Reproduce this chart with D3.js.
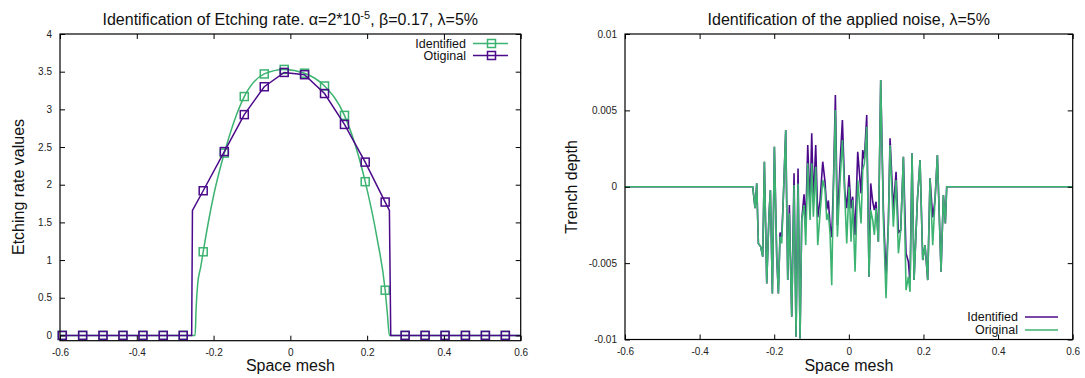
<!DOCTYPE html>
<html><head><meta charset="utf-8">
<script src="https://cdn.jsdelivr.net/npm/d3@7"></script>
<style>body{margin:0;background:#fff} svg{display:block;font-family:"Liberation Sans",Arial,sans-serif}</style>
</head><body><svg id="c" width="1085" height="378"></svg>
<script>
// ---------- data: left panel (etching rate) ----------
const markerX = [-0.594,-0.541,-0.488,-0.436,-0.384,-0.331,-0.279,-0.227,-0.172,-0.120,-0.068,-0.016,0.037,0.089,0.141,0.195,0.247,0.299,0.351,0.403,0.456,0.508,0.560];
const identMarkers = [0,0,0,0,0,0,0,1.11,2.42,3.17,3.47,3.53,3.48,3.31,2.92,2.04,0.60,0,0,0,0,0,0];
const origMarkers  = [0,0,0,0,0,0,0,1.92,2.44,2.93,3.30,3.49,3.46,3.21,2.80,2.30,1.77,0,0,0,0,0,0];
const identLineX = [-0.6,-0.248,-0.2456,-0.2412,-0.2334,-0.227,-0.2006,-0.172,-0.120,-0.068,-0.016,0.037,0.089,0.141,0.195,0.2251,0.247,0.2527,0.258,0.6];
const identLineY = [0,0,0.34,0.69,0.91,1.11,1.84,2.42,3.17,3.47,3.53,3.48,3.31,2.92,2.04,1.31,0.60,0.29,0,0];
const origLineX = [-0.6,-0.257,-0.255,-0.227,-0.172,-0.120,-0.068,-0.016,0.037,0.089,0.141,0.195,0.247,0.258,0.2615,0.6];
const origLineY = [0,0,1.66,1.92,2.44,2.93,3.30,3.49,3.46,3.21,2.80,2.30,1.77,1.66,0,0];
const leftXTicks = [-0.6,-0.4,-0.2,0,0.2,0.4,0.6];
const leftYTicks = [0,0.5,1,1.5,2,2.5,3,3.5,4];

// ---------- data: right panel (noise) ----------
const noiseX = [-0.6,-0.2577,-0.2514,-0.2469,-0.2425,-0.2362,-0.2308,-0.2264,-0.2201,-0.2139,-0.2103,-0.2050,-0.1996,-0.1933,-0.1889,-0.1844,-0.1799,-0.1755,-0.1692,-0.1638,-0.1594,-0.1531,-0.1469,-0.1415,-0.1362,-0.1308,-0.1263,-0.1201,-0.1156,-0.1102,-0.1040,-0.0995,-0.0951,-0.0888,-0.0834,-0.0772,-0.0700,-0.0638,-0.0593,-0.0549,-0.0504,-0.0459,-0.0415,-0.0361,-0.0307,-0.0236,-0.0173,-0.0111,-0.0057,0.0005,0.0059,0.0104,0.0166,0.0238,0.0327,0.0372,0.0416,0.0479,0.0541,0.0586,0.0640,0.0684,0.0729,0.0791,0.0854,0.0926,0.0997,0.1059,0.1104,0.1193,0.1265,0.1328,0.1390,0.1462,0.1533,0.1596,0.1640,0.1694,0.1748,0.1837,0.1908,0.1980,0.2042,0.2114,0.2176,0.2248,0.2310,0.2373,0.2471,0.2534,0.2587,0.2623,0.6];
const noiseOriginal = [0,0,-1.41e-3,0.22e-3,-3.71e-3,-3.93e-3,-4.58e-3,1.64e-3,-6.33e-3,-1.74e-3,-0.22e-3,-6.98e-3,2.62e-3,-4.6e-3,-6.98e-3,-3.27e-3,-3.71e-3,-0.65e-3,3.71e-3,-6.11e-3,-1.74e-3,-8.51e-3,0.11e-3,-9.82e-3,0.22e-3,-9.93e-3,-2.18e-3,-1.2e-3,-3.82e-3,1.53e-3,-2.18e-3,1.53e-3,-1.96e-3,1.31e-3,-3.82e-3,-1.74e-3,0.44e-3,-0.22e-3,-2.18e-3,-1.74e-3,-3.05e-3,-6.44e-3,-0.22e-3,5.02e-3,-3.27e-3,0.4e-3,3.06e-3,-0.43e-3,-3.71e-3,0,-3.60e-3,-0.87e-3,-5.57e-3,0.44e-3,-2.40e-3,1.09e-3,1.53e-3,3.93e-3,-5.89e-3,-1.53e-3,-2.18e-3,-3.16e-3,-1.41e-3,-3.60e-3,6.99e-3,-2.18e-3,-7.3e-3,-2.40e-3,2.73e-3,-2.62e-3,0.44e-3,-4.36e-3,-2.84e-3,1.96e-3,-6.77e-3,-5.89e-3,-6.88e-3,2.19e-3,-6.11e-3,-0.87e-3,1.75e-3,-4.80e-3,-3.82e-3,-6.11e-3,0.55e-3,-3.82e-3,-0.87e-3,2.08e-3,-5.57e-3,-0.54e-3,-2.40e-3,0,0];
const noiseIdentified = [0,0,-1.41e-3,0.22e-3,-3.71e-3,-3.93e-3,-4.58e-3,1.64e-3,-6.33e-3,-1.74e-3,-0.22e-3,-6.98e-3,2.62e-3,-4.6e-3,-6.98e-3,-3.0e-3,-3.27e-3,-0.65e-3,3.71e-3,-6.11e-3,-1.2e-3,-8.51e-3,0.88e-3,-9.82e-3,1.20e-3,-9.93e-3,-2.18e-3,-0.5e-3,-2.5e-3,2.73e-3,-1.3e-3,3.50e-3,-1.0e-3,2.73e-3,-2.0e-3,-0.9e-3,1.64e-3,0.3e-3,-1.5e-3,-0.9e-3,-2.5e-3,-3.3e-3,0,6.01e-3,-2.5e-3,1.5e-3,4.37e-3,-0.2e-3,-1.41e-3,0.77e-3,-1.41e-3,-0.65e-3,-3.16e-3,2.29e-3,-0.43e-3,2.40e-3,1.8e-3,4.70e-3,-5.89e-3,0.22e-3,-0.98e-3,-1.53e-3,-0.98e-3,-3.60e-3,6.99e-3,-1.5e-3,-6.0e-3,-2.40e-3,3.17e-3,-1.5e-3,0.98e-3,-3.0e-3,-2.84e-3,1.96e-3,-4.36e-3,-4.91e-3,-6.3e-3,2.19e-3,-6.11e-3,-0.87e-3,1.75e-3,-4.80e-3,-3.82e-3,-6.11e-3,0.55e-3,-2.0e-3,-0.87e-3,2.08e-3,-5.57e-3,-0.54e-3,-2.40e-3,0,0];
const rightXTicks = [-0.6,-0.4,-0.2,0,0.2,0.4,0.6];
const rightYTicks = [-0.01,-0.005,0,0.005,0.01];

// ---------- drawing ----------
const PURPLE = "#4b0a8a", GREEN = "#3cb371";
const FONT = '"Liberation Sans",Arial,sans-serif';
const svg = d3.select("#c");

function frame(g, x, y, xTicks, yTicks, yFmt) {
  const [x0, x1] = x.range(), [y0, y1] = y.range();
  const T = 5;
  g.append("g").attr("transform", `translate(0,${y0})`)
    .call(d3.axisBottom(x).tickValues(xTicks).tickSize(-T).tickPadding(8).tickFormat(d3.format("")));
  g.append("g").attr("transform", `translate(0,${y1})`)
    .call(d3.axisTop(x).tickValues(xTicks).tickSize(-T).tickFormat(""));
  g.append("g").attr("transform", `translate(${x0},0)`)
    .call(d3.axisLeft(y).tickValues(yTicks).tickSize(-T).tickPadding(8).tickFormat(yFmt));
  g.append("g").attr("transform", `translate(${x1},0)`)
    .call(d3.axisRight(y).tickValues(yTicks).tickSize(-T).tickFormat(""));
  g.selectAll(".domain").remove();
  g.selectAll("g").attr("font-family", FONT).attr("font-size", 10);
  g.selectAll(".tick line").attr("stroke", "#000");
  g.selectAll(".tick text").attr("fill", "#222").text(function(){ return this.textContent.replace("\u2212","-"); });
  g.append("rect").attr("x", x0).attr("y", y1).attr("width", x1 - x0).attr("height", y0 - y1)
    .attr("fill", "none").attr("stroke", "#000").attr("stroke-width", 1.2);
}

function labels(g, x, y, xlab, ylab, ylabX) {
  const [x0, x1] = x.range();
  g.append("text").attr("x", (x0 + x1) / 2).attr("y", 371).attr("text-anchor", "middle")
    .attr("font-size", 16).attr("fill", "#111").text(xlab);
  g.append("text").attr("transform", `translate(${ylabX},187) rotate(-90)`).attr("dy", "0.35em")
    .attr("text-anchor", "middle").attr("font-size", 16).attr("fill", "#111").text(ylab);
}

// ----- Left panel -----
{
  const x = d3.scaleLinear().domain([-0.6, 0.6]).range([60, 520.7]);
  const y = d3.scaleLinear().domain([-0.07, 4]).range([340.7, 34]);
  const g = svg.append("g");
  const line = d3.line().x(d => x(d[0])).y(d => y(d[1]));
  const identPts = identLineX.map((v, i) => [v, identLineY[i]]);
  const origPts = origLineX.map((v, i) => [v, origLineY[i]]);
  g.append("path").attr("d", line.curve(d3.curveMonotoneX)(identPts)).attr("fill", "none")
    .attr("stroke", GREEN).attr("stroke-width", 1.5);
  g.selectAll(".mi").data(markerX.map((v, i) => [v, identMarkers[i]])).join("rect")
    .attr("x", d => x(d[0]) - 4).attr("y", d => y(d[1]) - 4).attr("width", 8).attr("height", 8)
    .attr("fill", "none").attr("stroke", GREEN).attr("stroke-width", 1.5);
  g.append("path").attr("d", d3.line().x(d => x(d[0])).y(d => y(d[1]))(origPts)).attr("fill", "none")
    .attr("stroke", PURPLE).attr("stroke-width", 1.5);
  g.selectAll(".mo").data(markerX.map((v, i) => [v, origMarkers[i]])).join("rect")
    .attr("x", d => x(d[0]) - 4).attr("y", d => y(d[1]) - 4).attr("width", 8).attr("height", 8)
    .attr("fill", "none").attr("stroke", PURPLE).attr("stroke-width", 1.5);
  frame(g, x, y, leftXTicks, leftYTicks, d3.format(""));
  labels(g, x, y, "Space mesh", "Etching rate values", 18);
  // title
  const t = g.append("text").attr("x", 290.3).attr("y", 25).attr("text-anchor", "middle")
    .attr("font-size", 16).attr("fill", "#111");
  t.append("tspan").text("Identification of Etching rate. \u03b1=2*10");
  t.append("tspan").attr("dy", -6).attr("font-size", 11).text("-5");
  t.append("tspan").attr("dy", 6).text(", \u03b2=0.17, \u03bb=5%");
  // legend
  const leg = [["Identified", GREEN, 43.5], ["Otiginal", PURPLE, 55.5]];
  leg.forEach(([name, col, ly]) => {
    g.append("text").attr("x", 466).attr("y", ly).attr("dy", "0.35em").attr("text-anchor", "end")
      .attr("font-size", 12.5).attr("fill", "#111").text(name);
    g.append("line").attr("x1", 473).attr("x2", 508).attr("y1", ly).attr("y2", ly)
      .attr("stroke", col).attr("stroke-width", 1.5);
    g.append("rect").attr("x", 487.5).attr("y", ly - 4).attr("width", 8).attr("height", 8)
      .attr("fill", "none").attr("stroke", col).attr("stroke-width", 1.5);
  });
}

// ----- Right panel -----
{
  const x = d3.scaleLinear().domain([-0.6, 0.6]).range([625, 1072.7]);
  const y = d3.scaleLinear().domain([-0.01, 0.01]).range([339.5, 34]);
  const g = svg.append("g");
  svg.append("defs").append("clipPath").attr("id", "clipR").append("rect")
    .attr("x", 625).attr("y", 34).attr("width", 447.7).attr("height", 305.5);
  const line = d3.line().x(d => x(d[0])).y(d => y(d[1]));
  g.append("path").attr("clip-path", "url(#clipR)")
    .attr("d", line(noiseX.map((v, i) => [v, noiseIdentified[i]]))).attr("fill", "none")
    .attr("stroke", PURPLE).attr("stroke-width", 1.6);
  g.append("path").attr("clip-path", "url(#clipR)")
    .attr("d", line(noiseX.map((v, i) => [v, noiseOriginal[i]]))).attr("fill", "none")
    .attr("stroke", GREEN).attr("stroke-width", 1.6);
  frame(g, x, y, rightXTicks, rightYTicks, d3.format(""));
  labels(g, x, y, "Space mesh", "Trench depth", 571);
  g.append("text").attr("x", 848.8).attr("y", 25).attr("text-anchor", "middle")
    .attr("font-size", 16).attr("fill", "#111").text("Identification of the applied noise, \u03bb=5%");
  const leg = [["Identified", PURPLE, 317], ["Original", GREEN, 330]];
  leg.forEach(([name, col, ly]) => {
    g.append("text").attr("x", 1018).attr("y", ly).attr("dy", "0.35em").attr("text-anchor", "end")
      .attr("font-size", 12.5).attr("fill", "#111").text(name);
    g.append("line").attr("x1", 1025).attr("x2", 1058).attr("y1", ly).attr("y2", ly)
      .attr("stroke", col).attr("stroke-width", 1.6);
  });
}
</script>
</body></html>
